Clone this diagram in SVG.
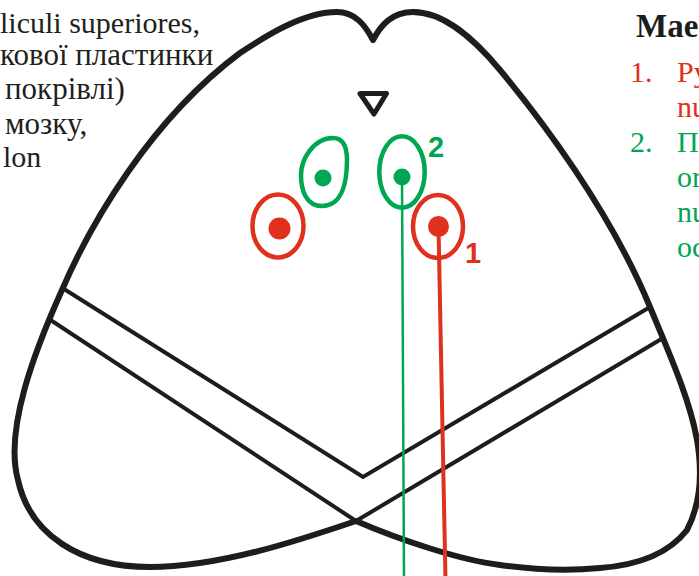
<svg xmlns="http://www.w3.org/2000/svg" width="699" height="576" viewBox="0 0 699 576">
  <style>
    .txt { font-family: "Liberation Serif", "Times New Roman", serif; font-size: 30px; }
    .cyr { font-size: 31px; }
    .ink { fill: #231f20; }
    .red { fill: #e0301e; }
    .grn { fill: #00a651; }
    .head { font-family: "Liberation Serif", "Times New Roman", serif; font-size: 33px; font-weight: bold; fill: #1d1d1b; }
    .num { font-family: "Liberation Sans", Arial, sans-serif; font-size: 29px; font-weight: bold; }
    .outline { fill: none; stroke: #1d1d1b; stroke-width: 6; stroke-linejoin: round; }
    .inner { fill: none; stroke: #1d1d1b; stroke-width: 4; }
    .ring-r { fill: none; stroke: #e0301e; stroke-width: 4.5; }
    .ring-g { fill: none; stroke: #00a651; stroke-width: 4.5; }
  </style>
  <rect width="699" height="576" fill="#ffffff"/>

  <!-- caption text, left -->
  <g id="caption-left" class="txt ink">
    <text x="0" y="33">liculi superiores,</text>
    <text class="cyr" x="0" y="65">кової пластинки</text>
    <text class="cyr" x="5" y="99">покрівлі)</text>
    <text class="cyr" x="5" y="134">мозку,</text>
    <text x="3" y="167">lon</text>
  </g>

  <!-- legend, right -->
  <g id="legend">
    <text class="head" x="636" y="37">Мае</text>
    <g class="txt red">
      <text x="630" y="82">1.</text>
      <text x="677" y="82">Ру</text>
      <text x="677" y="117">nu</text>
    </g>
    <g class="txt grn">
      <text x="630" y="152">2.</text>
      <text x="677" y="152">П</text>
      <text x="677" y="187">or</text>
      <text x="677" y="222">nu</text>
      <text x="677" y="257">oc</text>
    </g>
  </g>

  <!-- midbrain section outline -->
  <g id="section">
    <path class="outline" d="M356,521 C300,540 220,567 150,567 C80,567 30,535 18,480 C4,430 35,350 62,290 C90,225 150,120 240,53 C270,33 305,12 337,12 C355,12 365,25 373,40 C381,25 392,12 413,12 C445,12 475,40 500,70 C540,118 610,210 650,307 C670,355 690,400 697,440 C703,475 700,505 687,530 C670,552 640,565 600,568 C570,571 535,570 500,565 C460,560 400,540 356,521 Z"/>
    <polyline class="inner" points="64,289 363,477 650,307"/>
    <line class="inner" x1="49" y1="319" x2="356" y2="521"/>
    <line class="inner" x1="663" y1="338" x2="356" y2="521"/>
    <!-- aqueduct -->
    <path id="aqueduct" d="M360,93.5 L386.5,93.5 L374,114 Z" fill="none" stroke="#1d1d1b" stroke-width="5" stroke-linejoin="round"/>
  </g>

  <!-- nuclei -->
  <g id="nucleus-red-left">
    <ellipse class="ring-r" cx="278" cy="226" rx="25.5" ry="31.5"/>
    <circle cx="279.5" cy="228.5" r="11" fill="#e0301e"/>
  </g>
  <g id="nucleus-green-left">
    <path class="ring-g" d="M333,138 C343,138 347,146 347,160 C347,180 343,206 322,206 C306,206 301,190 301,175 C301,160 313,138 333,138 Z"/>
    <circle cx="323" cy="178" r="8.5" fill="#00a651"/>
  </g>
  <g id="nucleus-green-right">
    <ellipse class="ring-g" cx="402" cy="172" rx="22.7" ry="35.7"/>
    <circle cx="402" cy="177" r="8.5" fill="#00a651"/>
  </g>
  <g id="nucleus-red-right">
    <ellipse class="ring-r" cx="438" cy="226.5" rx="25" ry="31.5"/>
    <circle cx="438.5" cy="226.5" r="10.5" fill="#e0301e"/>
  </g>

  <!-- leader lines -->
  <g id="connectors">
    <line x1="402" y1="177" x2="404" y2="580" stroke="#00a651" stroke-width="2.5"/>
    <line x1="438.5" y1="227" x2="445.5" y2="580" stroke="#e0301e" stroke-width="4"/>
  </g>

  <!-- numbers -->
  <g id="labels" class="num">
    <text x="428" y="157" fill="#00a651">2</text>
    <text x="465" y="263" fill="#e0301e">1</text>
  </g>
</svg>
